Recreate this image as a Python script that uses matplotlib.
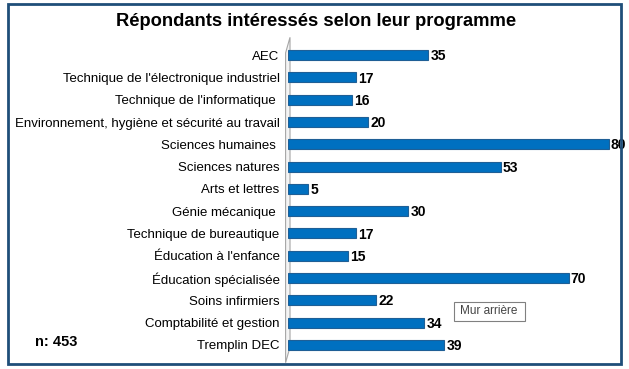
import matplotlib.pyplot as plt
from matplotlib.patches import Rectangle, Polygon, FancyBboxPatch

# Data
programmes = [
    "AEC", "Technique de l'électronique industriel", "Technique de l'informatique ",
    "Environnement, hygiène et sécurité au travail", "Sciences humaines ",
    "Sciences natures", "Arts et lettres", "Génie mécanique ",
    "Technique de bureautique", "Éducation à l'enfance", "Éducation spécialisée",
    "Soins infirmiers", "Comptabilité et gestion", "Tremplin DEC",
]
counts = [35, 17, 16, 20, 80, 53, 5, 30, 17, 15, 70, 22, 34, 39]
n_total = 453

plt.rcParams["font.family"] = ["Liberation Sans", "DejaVu Sans"]

W, H = 629, 369
fig = plt.figure(figsize=(W / 100, H / 100), dpi=100)

# outer frame
fig.patches.append(Rectangle((8 / W, 1 - 364 / H), 613 / W, 360 / H,
                             transform=fig.transFigure, fill=False,
                             edgecolor="#1f4e79", linewidth=2))

fig.text(0.502, 1 - 22 / H, "Répondants intéressés selon leur programme",
         ha="center", va="center", fontsize=13.2, fontweight="bold")

ax = fig.add_axes([288 / W, 1 - 356 / H, 325 / W, 312 / H])
ypos = list(range(len(programmes)))
ax.barh(ypos, counts, height=0.45, color="#0070c0", edgecolor="#1f5f96",
        linewidth=0.8, zorder=3)
for y, v in zip(ypos, counts):
    ax.text(v + 0.5, y + 0.05, str(v), va="center", ha="left", fontsize=10,
            fontweight="bold", zorder=4)

ax.set_xlim(0, 81)
ax.set_ylim(len(programmes) - 0.5, -0.5)
ax.set_yticks(ypos)
ax.set_yticklabels(programmes, fontsize=9.5)
ax.tick_params(axis="y", length=0, pad=6)
ax.set_xticks([])
for s in ax.spines.values():
    s.set_visible(False)

# back wall of the 3D chart
wall = Polygon([(-0.6, len(programmes) - 0.2), (-0.6, -0.1),
                (0.5, -0.8), (0.5, len(programmes) - 0.9)],
               closed=True, facecolor="#f4f4f4", edgecolor="#a6a6a6",
               linewidth=0.8, clip_on=False, zorder=1)
ax.add_patch(wall)

fig.text(35 / W, 1 - 342 / H, f"n: {n_total}", ha="left", va="center",
         fontsize=10.5, fontweight="bold")

# tooltip from the screenshot
fig.patches.append(FancyBboxPatch((454 / W, 1 - 321 / H), 71 / W, 19 / H,
                                  boxstyle="square,pad=0", transform=fig.transFigure,
                                  facecolor="white", edgecolor="#808080",
                                  linewidth=0.8))
fig.text(489 / W, 1 - 311 / H, "Mur arrière", ha="center", va="center",
         fontsize=8.5, color="#444444")

fig.savefig("out.png", dpi=100)
